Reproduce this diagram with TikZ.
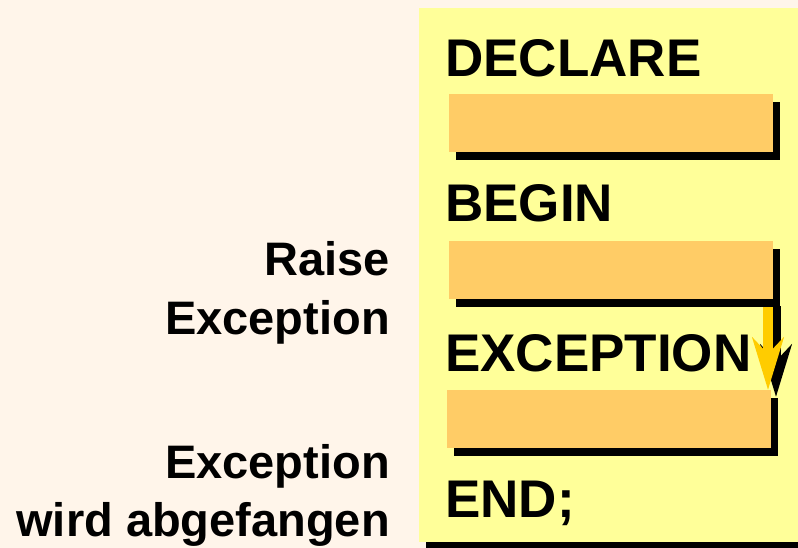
\documentclass[tikz,border=0pt]{standalone}
\usepackage{fontspec}
\setmainfont{Liberation Sans}
\usetikzlibrary{arrows.meta,shadows}
\definecolor{bgcream}{HTML}{FFF5EA}
\definecolor{panelyellow}{HTML}{FFFF99}
\definecolor{slotorange}{HTML}{FFCC66}
\definecolor{arrowgold}{HTML}{FFCC00}
\tikzset{
  kw/.style={inner sep=0pt,anchor=base west,font=\fontsize{53}{60}\selectfont\bfseries},
  note/.style={inner sep=0pt,anchor=base east,font=\fontsize{47}{54}\selectfont\bfseries},
  slot/.style={fill=slotorange,minimum width=324pt,minimum height=58pt,inner sep=0pt,
    drop shadow={shadow xshift=7pt,shadow yshift=-8pt,fill=black,opacity=1}},
  raisearrow/.style={line width=10pt,-{Stealth[length=52pt,width=31pt,inset=16pt]}}
}
\begin{document}
\begin{tikzpicture}[x=1pt,y=-1pt]
\fill[bgcream] (0,0) rectangle (798,548);
\useasboundingbox (0,0) rectangle (798,548);
% block panel
\node[fill=panelyellow,minimum width=390pt,minimum height=534pt,inner sep=0pt,
  drop shadow={shadow xshift=7pt,shadow yshift=-6pt,fill=black,opacity=1}] (panel) at (614,275) {};
% raise arrow with shadow
\coordinate (raise-from) at (768,300);
\coordinate (raise-to) at (768,390);
\draw[raisearrow,black] ([shift={(8,6)}]raise-from) -- ([shift={(8,7)}]raise-to);
\draw[raisearrow,arrowgold] (raise-from) -- (raise-to);
% slots
\node[slot] (decl-slot) at (611,123.5) {};
\node[slot] (begin-slot) at (611,270) {};
\node[slot] (exc-slot) at (609,418.5) {};
% keywords
\node[kw] (declare) at (445,77) {DECLARE};
\node[kw] (begin) at (445,222) {BEGIN};
\node[kw] (exception) at (445,371) {EXCEPTION};
\node[kw] (end) at (445,517) {END;};
% notes
\node[note] (raise1) at (390,276) {Raise};
\node[note] (raise2) at (390,334) {Exception};
\node[note] (caught1) at (390,478) {Exception};
\node[note] (caught2) at (390,536) {wird abgefangen};
\end{tikzpicture}
\end{document}
